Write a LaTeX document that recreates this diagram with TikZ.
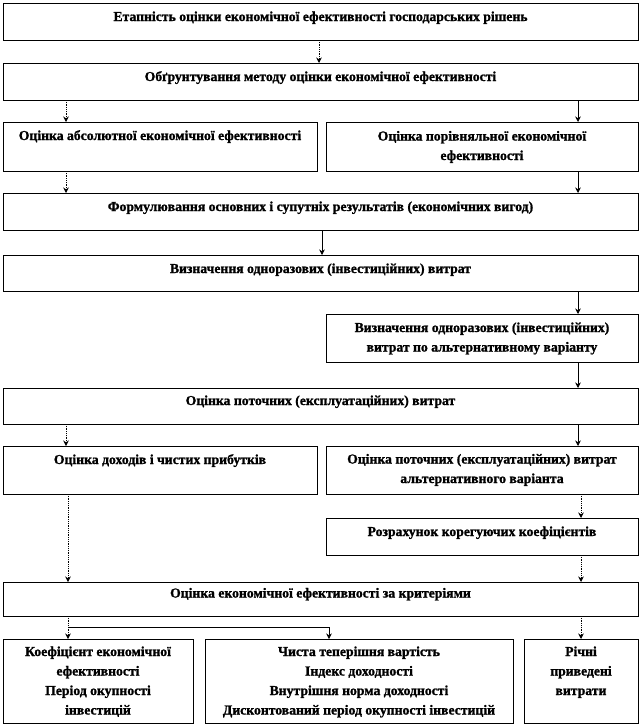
\documentclass[tikz,border=0pt]{standalone}
\usepackage{fontspec}
\setmainfont{Liberation Serif}[BoldFeatures={FakeBold=1.2}]
\usetikzlibrary{arrows.meta}
\begin{document}
\begin{tikzpicture}[x=1pt,y=-1pt,
  box/.style={draw=black, line width=0.8pt, anchor=north west, inner sep=0pt, outer sep=0pt},
  txt/.style={anchor=base, align=center, inner sep=0pt, font=\fontsize{13.7}{19.5}\selectfont\bfseries},
  solidarr/.style={draw=black, line width=0.7pt, -{Stealth[length=5.5pt,width=5.5pt]}},
  dotarr/.style={draw=black, line width=0.9pt, dash pattern=on 0.9pt off 0.9pt, -{Stealth[length=5.5pt,width=5.5pt]}}]
\useasboundingbox (0,0) rectangle (641,726);
\fill[white] (0,0) rectangle (641,726);

% x positions of connectors
\coordinate (xc1) at (319,0);
\coordinate (xc2) at (322,0);
\coordinate (xl) at (66,0);
\coordinate (xl2) at (68,0);
\coordinate (xr) at (578,0);
\coordinate (xr2) at (581,0);

% boxes
\node[box, minimum width=635pt, minimum height=37pt] (b1) at (3,3) {};
\node[box, minimum width=635pt, minimum height=37pt] (b2) at (3,63) {};
\node[box, minimum width=314pt, minimum height=49pt] (b3) at (3,122) {};
\node[box, minimum width=312pt, minimum height=49pt] (b4) at (326,122) {};
\node[box, minimum width=635pt, minimum height=37pt] (b5) at (3,193) {};
\node[box, minimum width=635pt, minimum height=36pt] (b6) at (3,255) {};
\node[box, minimum width=312pt, minimum height=48pt] (b7) at (326,314) {};
\node[box, minimum width=635pt, minimum height=36pt] (b8) at (3,388) {};
\node[box, minimum width=314pt, minimum height=48pt] (b9) at (3,446) {};
\node[box, minimum width=312pt, minimum height=48pt] (b10) at (326,446) {};
\node[box, minimum width=312pt, minimum height=37pt] (b11) at (326,518) {};
\node[box, minimum width=635pt, minimum height=34pt] (b12) at (3,582) {};
\node[box, minimum width=190pt, minimum height=84pt] (b13) at (3,639) {};
\node[box, minimum width=308pt, minimum height=84pt] (b14) at (205,639) {};
\node[box, minimum width=114pt, minimum height=84pt] (b15) at (524,639) {};

% texts (anchor = baseline of the last line)
\node[txt] (t1) at ([yshift=-18pt]b1.north) {Етапність оцінки економічної ефективності господарських рішень};
\node[txt] (t2) at ([yshift=-18pt]b2.north) {Обґрунтування методу оцінки економічної ефективності};
\node[txt] (t3) at ([yshift=-18pt]b3.north) {Оцінка абсолютної економічної ефективності};
\node[txt] (t4) at ([yshift=-38pt]b4.north) {Оцінка порівняльної економічної\\ефективності};
\node[txt] (t5) at ([yshift=-18pt]b5.north) {Формулювання основних і супутніх результатів (економічних вигод)};
\node[txt] (t6) at ([yshift=-18pt]b6.north) {Визначення одноразових (інвестиційних) витрат};
\node[txt] (t7) at ([yshift=-37.5pt]b7.north) {Визначення одноразових (інвестиційних)\\витрат по альтернативному варіанту};
\node[txt] (t8) at ([yshift=-17pt]b8.north) {Оцінка поточних (експлуатаційних) витрат};
\node[txt] (t9) at ([yshift=-18pt]b9.north) {Оцінка доходів і чистих прибутків};
\node[txt] (t10) at ([yshift=-37pt]b10.north) {Оцінка поточних (експлуатаційних) витрат\\альтернативного варіанта};
\node[txt] (t11) at ([yshift=-18pt]b11.north) {Розрахунок корегуючих коефіцієнтів};
\node[txt] (t12) at ([yshift=-15.5pt]b12.north) {Оцінка економічної ефективності за критеріями};
\node[txt] (t13) at ([yshift=-75.5pt]b13.north) {Коефіцієнт економічної\\ефективності\\Період окупності\\інвестицій};
\node[txt] (t14) at ([yshift=-75.5pt]b14.north) {Чиста теперішня вартість\\Індекс доходності\\Внутрішня норма доходності\\Дисконтований період окупності інвестицій};
\node[txt] (t15) at ([yshift=-56pt]b15.north) {Річні\\приведені\\витрати};

% connectors
\draw[dotarr] (b1.south -| xc1) -- (b2.north -| xc1);
\draw[dotarr] (b2.south -| xl) -- (b3.north -| xl);
\draw[solidarr] (b2.south -| xr) -- (b4.north -| xr);
\draw[dotarr] (b3.south -| xl) -- (b5.north -| xl);
\draw[solidarr] (b4.south -| xr) -- (b5.north -| xr);
\draw[solidarr] (b5.south -| xc2) -- (b6.north -| xc2);
\draw[solidarr] (b6.south -| xr) -- (b7.north -| xr);
\draw[solidarr] (b7.south -| xr) -- (b8.north -| xr);
\draw[dotarr] (b8.south -| xl) -- (b9.north -| xl);
\draw[solidarr] (b8.south -| xr) -- (b10.north -| xr);
\draw[dotarr] (b9.south -| xl2) -- (b12.north -| xl2);
\draw[dotarr] (b10.south -| xr2) -- (b11.north -| xr2);
\draw[dotarr] (b11.south -| xr2) -- (b12.north -| xr2);
\draw[dotarr] (b12.south -| xl2) -- (b13.north -| xl2);
\draw[dotarr] (b12.south -| xr2) -- (b15.north -| xr2);
\coordinate (j) at (68,627);
\coordinate (k) at (329,639);
\draw[solidarr] (j) -| (k);
\end{tikzpicture}
\end{document}
